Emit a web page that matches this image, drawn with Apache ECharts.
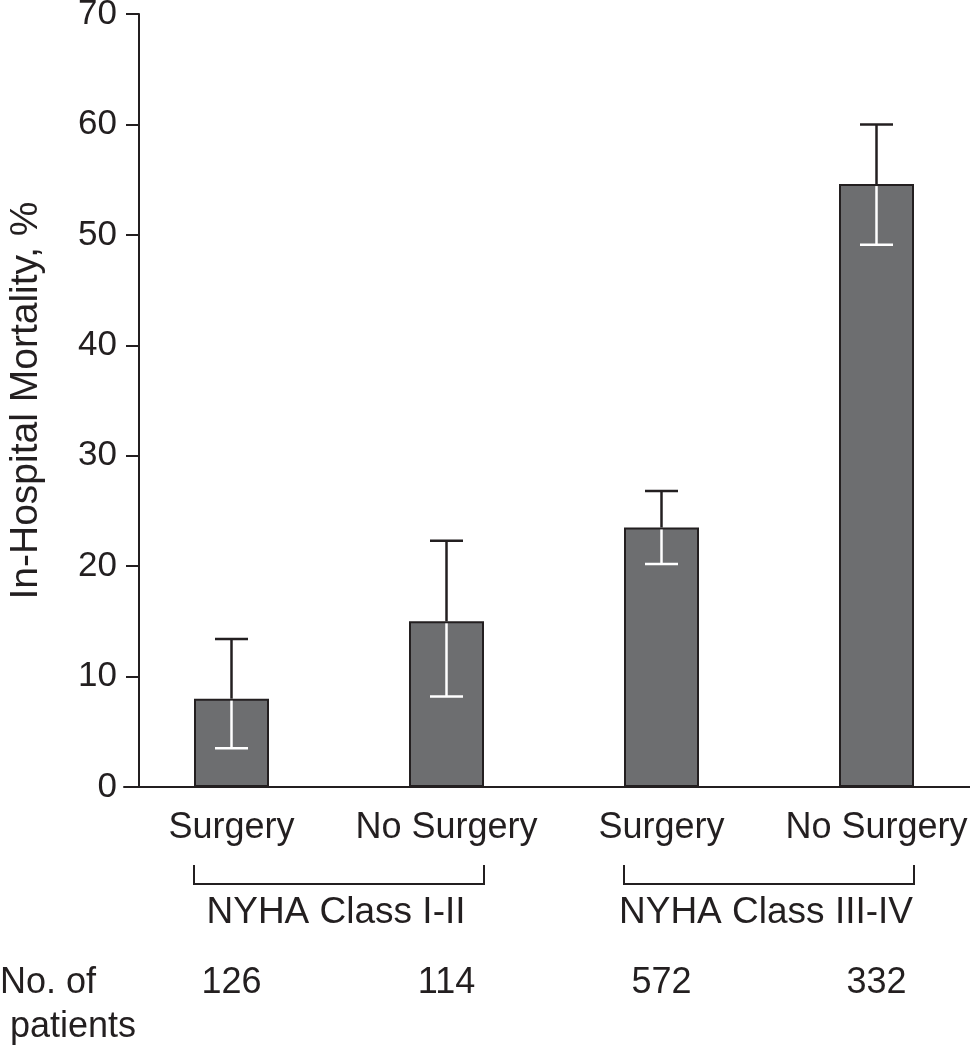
<!DOCTYPE html>
<html>
<head>
<meta charset="utf-8">
<script src="https://cdn.jsdelivr.net/npm/echarts@6/dist/echarts.min.js"></script>
<style>
html,body{margin:0;padding:0;background:#fff;}
#chart{width:970px;height:1050px;}
</style>
</head>
<body>
<div id="chart"></div>
<script>
// ---- data ----
var categories = ['Surgery', 'No Surgery', 'Surgery', 'No Surgery'];
var mortality = [8.0, 15.0, 23.5, 54.6];
var ciLow = [3.5, 8.2, 20.2, 49.1];
var ciHigh = [13.4, 22.3, 26.8, 60.0];
var patients = ['126', '114', '572', '332'];
var groups = ['NYHA Class I-II', 'NYHA Class III-IV'];
var groupMembers = [[0, 1], [2, 3]];
var yMin = 0, yMax = 70, yStep = 10;
var yTitle = 'In-Hospital Mortality, %';
var rowTitle1 = 'No. of';
var rowTitle2 = 'patients';

// ---- styles ----
var FONT = '"Liberation Sans", Arial, Helvetica, sans-serif';
var INK = '#231f20';
var BAR_W = 75;
var CAP_W = 33;

var chart = echarts.init(document.getElementById('chart'), null, {renderer: 'canvas'});

var errData = mortality.map(function (v, i) { return [i, v, ciLow[i], ciHigh[i]]; });
var countData = patients.map(function (p, i) { return [i, 0, p]; });
var groupData = groupMembers.map(function (m, k) { return [m[0], m[1], groups[k]]; });

var option = {
  animation: false,
  backgroundColor: '#fff',
  grid: {left: 124, top: 14, width: 860, bottom: 263, containLabel: false, outerBoundsMode: 'none'},
  xAxis: {
    type: 'category',
    data: categories,
    axisLine: {show: true, lineStyle: {color: INK, width: 2}},
    axisTick: {show: false},
    axisLabel: {color: INK, fontSize: 36, fontFamily: FONT, margin: 23, interval: 0}
  },
  yAxis: {
    type: 'value',
    min: yMin, max: yMax, interval: yStep,
    offset: -15,
    name: yTitle,
    nameLocation: 'middle',
    nameGap: 93,
    nameTextStyle: {color: INK, fontSize: 39, fontFamily: FONT},
    axisLine: {show: true, lineStyle: {color: INK, width: 2}},
    axisTick: {show: true, length: 13, lineStyle: {color: INK, width: 2}},
    axisLabel: {color: INK, fontSize: 35, fontFamily: FONT, margin: 22},
    splitLine: {show: false}
  },
  series: [
    {
      type: 'bar',
      data: mortality,
      barWidth: BAR_W,
      itemStyle: {color: '#6d6e70', borderColor: INK, borderWidth: 2},
      z: 2
    },
    {
      type: 'custom',
      data: errData,
      encode: {x: 0, y: 1},
      z: 5,
      renderItem: function (params, api) {
        var i = api.value(0);
        var pm = api.coord([i, api.value(1)]);
        var pl = api.coord([i, api.value(2)]);
        var ph = api.coord([i, api.value(3)]);
        var x = pm[0];
        var h = CAP_W / 2;
        return {
          type: 'group',
          children: [
            {type: 'line', shape: {x1: x, y1: ph[1], x2: x, y2: pm[1]}, style: {stroke: INK, lineWidth: 2.5}},
            {type: 'line', shape: {x1: x - h, y1: ph[1], x2: x + h, y2: ph[1]}, style: {stroke: INK, lineWidth: 2.5}},
            {type: 'line', shape: {x1: x, y1: pm[1] + 2, x2: x, y2: pl[1]}, style: {stroke: '#ffffff', lineWidth: 2.5}},
            {type: 'line', shape: {x1: x - h, y1: pl[1], x2: x + h, y2: pl[1]}, style: {stroke: '#ffffff', lineWidth: 2.5}}
          ]
        };
      }
    },
    {
      type: 'custom',
      data: groupData,
      encode: {x: 0},
      z: 5,
      clip: false,
      renderItem: function (params, api) {
        var a = api.coord([api.value(0), 0]);
        var b = api.coord([api.value(1), 0]);
        var label = groupData[params.dataIndex][2];
        var x0 = a[0] - BAR_W / 2, x1 = b[0] + BAR_W / 2, y = a[1];
        return {
          type: 'group',
          children: [
            {type: 'polyline', shape: {points: [[x0, y + 78], [x0, y + 97], [x1, y + 97], [x1, y + 78]]},
             style: {stroke: INK, lineWidth: 2, fill: null}},
            {type: 'text', style: {x: (x0 + x1) / 2 - 3, y: y + 126, text: label, fill: INK,
             font: '37px ' + FONT, align: 'center', verticalAlign: 'middle'}}
          ]
        };
      }
    },
    {
      type: 'custom',
      data: countData,
      encode: {x: 0, y: 1},
      z: 5,
      clip: false,
      renderItem: function (params, api) {
        var p = api.coord([api.value(0), 0]);
        return {
          type: 'text',
          style: {x: p[0], y: p[1] + 196, text: countData[params.dataIndex][2], fill: INK,
                  font: '36px ' + FONT, align: 'center', verticalAlign: 'middle'}
        };
      }
    }
  ],
  graphic: [
    {type: 'text', left: 0, top: 965, style: {text: rowTitle1, fill: INK, font: '36px ' + FONT}},
    {type: 'text', left: 10, top: 1009, style: {text: rowTitle2, fill: INK, font: '36px ' + FONT}}
  ]
};

chart.setOption(option);
</script>
</body>
</html>
